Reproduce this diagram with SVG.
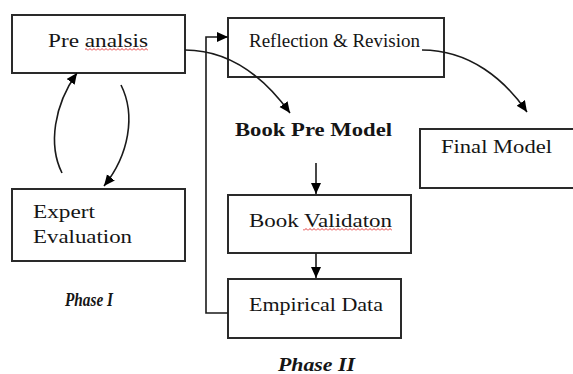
<svg xmlns="http://www.w3.org/2000/svg" width="573" height="374" viewBox="0 0 573 374">
  <style>
    .box { fill: #ffffff; stroke: #2a2a2a; stroke-width: 2; }
    .lbl { font-family: "Liberation Serif", "Times New Roman", serif; font-size: 19px; fill: #151515; }
    .bold { font-weight: bold; }
    .ital { font-style: italic; font-weight: bold; }
    .conn { fill: none; stroke: #1a1a1a; stroke-width: 1.6; }
    .wave { fill: url(#wave); }
  </style>
  <defs>
    <marker id="arr" markerUnits="userSpaceOnUse" markerWidth="12" markerHeight="11" refX="11" refY="5" orient="auto">
      <path d="M0,0 L11,5 L0,10 Z" fill="#000"/>
    </marker>
    <pattern id="wave" width="4" height="3" patternUnits="userSpaceOnUse">
      <path d="M0,2.5 L2,0.5 L4,2.5" fill="none" stroke="#e02020" stroke-width="0.9"/>
    </pattern>
  </defs>
  <rect width="573" height="374" fill="#ffffff"/>

  <g id="pre-analsis">
    <rect class="box" x="12" y="15" width="173" height="58"/>
    <text class="lbl" x="48" y="47" textLength="100" lengthAdjust="spacingAndGlyphs">Pre analsis</text>
    <rect class="wave" x="85" y="48" width="63" height="3"/>
  </g>

  <g id="expert-evaluation">
    <rect class="box" x="12" y="189" width="173" height="72"/>
    <text class="lbl" x="33" y="218" textLength="62" lengthAdjust="spacingAndGlyphs">Expert</text>
    <text class="lbl" x="33" y="243" textLength="99" lengthAdjust="spacingAndGlyphs">Evaluation</text>
  </g>

  <g id="reflection-revision">
    <rect class="box" x="228" y="18" width="216" height="59"/>
    <text class="lbl" x="249" y="47" textLength="171" lengthAdjust="spacingAndGlyphs">Reflection &amp; Revision</text>
  </g>

  <g id="book-pre-model">
    <text class="lbl bold" x="235" y="136" textLength="157" lengthAdjust="spacingAndGlyphs">Book Pre Model</text>
  </g>

  <g id="final-model">
    <rect class="box" x="420" y="129" width="170" height="59"/>
    <text class="lbl" x="441" y="153" textLength="111" lengthAdjust="spacingAndGlyphs">Final Model</text>
  </g>

  <g id="book-validaton">
    <rect class="box" x="228" y="195" width="183" height="58"/>
    <text class="lbl" x="249" y="227" textLength="143" lengthAdjust="spacingAndGlyphs">Book Validaton</text>
    <rect class="wave" x="303" y="228" width="89" height="3"/>
  </g>

  <g id="empirical-data">
    <rect class="box" x="228" y="279" width="173" height="59"/>
    <text class="lbl" x="249" y="311" textLength="134" lengthAdjust="spacingAndGlyphs">Empirical Data</text>
  </g>

  <g id="phase-labels">
    <text class="lbl ital" x="65" y="306" textLength="48" lengthAdjust="spacingAndGlyphs">Phase I</text>
    <text class="lbl ital" x="278" y="371" textLength="77" lengthAdjust="spacingAndGlyphs">Phase II</text>
  </g>

  <g id="connectors">
    <path class="conn" d="M185,50 C232,50 266,80 290,113" marker-end="url(#arr)"/>
    <path class="conn" d="M422,50 C470,50 505,80 527,112" marker-end="url(#arr)"/>
    <path class="conn" d="M228,313 H206 V37 H228" marker-end="url(#arr)"/>
    <path class="conn" d="M316,163 V194" marker-end="url(#arr)"/>
    <path class="conn" d="M316,253 V278" marker-end="url(#arr)"/>
    <path class="conn" d="M62,173 C48,145 54,105 77,73" marker-end="url(#arr)"/>
    <path class="conn" d="M121,85 C136,115 129,155 104,186" marker-end="url(#arr)"/>
  </g>
</svg>
